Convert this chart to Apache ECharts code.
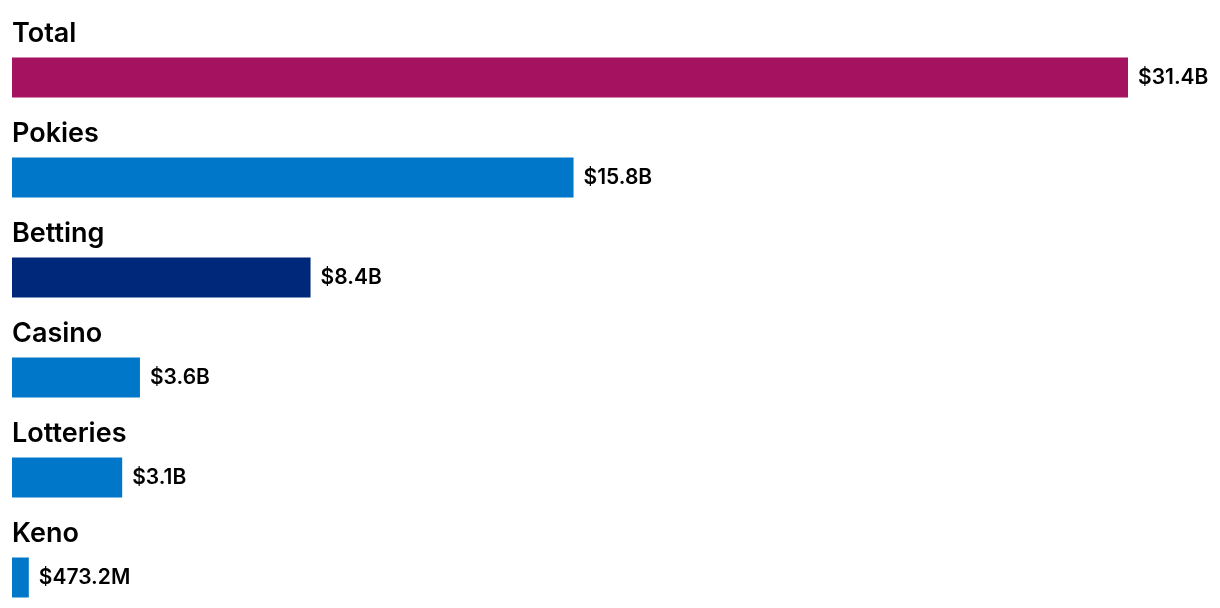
<!DOCTYPE html>
<html>
<head>
<meta charset="utf-8">
<script src="https://cdn.jsdelivr.net/npm/echarts@6/dist/echarts.min.js"></script>
<style>html,body{margin:0;padding:0;background:#fff;}#c{width:1220px;height:608px;}</style>
</head>
<body>
<div id="c"></div>
<script>
const categories = ['Total', 'Pokies', 'Betting', 'Casino', 'Lotteries', 'Keno'];
const values = [31.4, 15.8, 8.4, 3.6, 3.1, 0.4732];
const valueLabels = ['$31.4B', '$15.8B', '$8.4B', '$3.6B', '$3.1B', '$473.2M'];
const barColors = ['#A5125F', '#0077C8', '#00287A', '#0077C8', '#0077C8', '#0077C8'];

const FONT = 'Inter, Roboto, sans-serif';
const chart = echarts.init(document.getElementById('c'), null, {renderer: 'canvas'});
chart.setOption({
  animation: false,
  backgroundColor: '#ffffff',
  grid: {left: 12, right: 92, top: 27.5, height: 600, outerBoundsMode: 'none', containLabel: false},
  xAxis: {type: 'value', min: 0, max: 31.4, show: false},
  yAxis: {type: 'category', data: categories, inverse: true, show: false},
  series: [
    {
      type: 'bar',
      barWidth: 40,
      data: values.map((v, i) => ({value: v, itemStyle: {color: barColors[i]}})),
      label: {
        show: true,
        position: 'right',
        distance: 10,
        formatter: p => valueLabels[p.dataIndex],
        fontFamily: FONT,
        fontSize: 21,
        fontWeight: 600,
        color: '#000'
      }
    },
    {
      type: 'bar',
      barWidth: 40,
      barGap: '-100%',
      silent: true,
      data: values.map(v => ({value: v, itemStyle: {color: 'rgba(0,0,0,0)'}})),
      label: {
        show: true,
        position: [0, -10],
        align: 'left',
        verticalAlign: 'bottom',
        formatter: p => categories[p.dataIndex],
        fontFamily: FONT,
        fontSize: 27,
        fontWeight: 600,
        color: '#000'
      }
    }
  ]
});
</script>
</body>
</html>
